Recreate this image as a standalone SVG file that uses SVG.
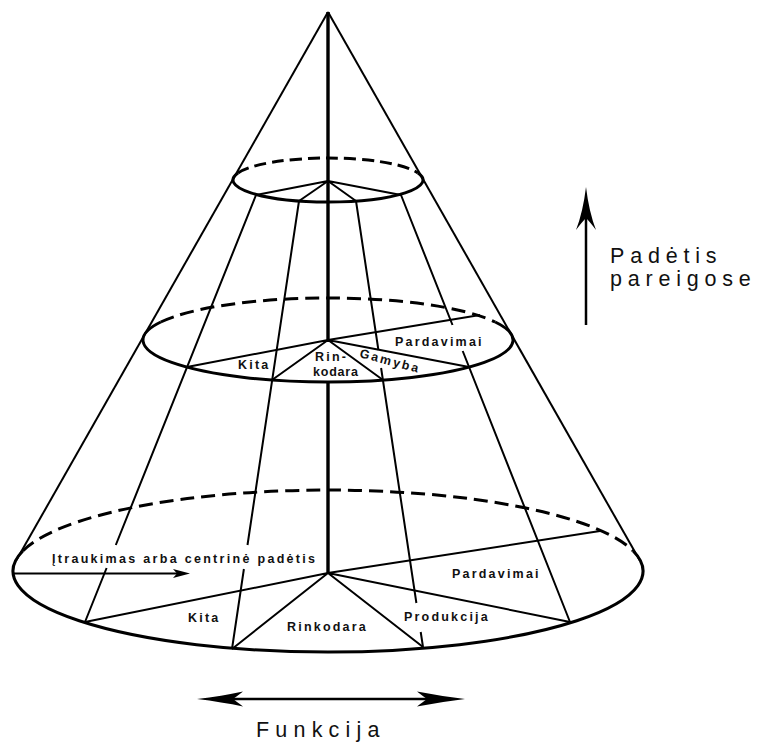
<svg xmlns="http://www.w3.org/2000/svg" width="762" height="742" viewBox="0 0 762 742">
<style>
.e{fill:none;stroke:#000;stroke-width:3}
.d{fill:none;stroke:#000;stroke-width:3;stroke-dasharray:14 7}
.dt{fill:none;stroke:#000;stroke-width:3;stroke-dasharray:12 6}
.l{fill:none;stroke:#000;stroke-width:2}
.ax{fill:none;stroke:#000;stroke-width:3.4}
.hd{fill:#000;stroke:none}
.lbl{font-family:"Liberation Sans",Arial,sans-serif;font-weight:bold;font-size:12.5px;letter-spacing:2.2px;fill:#111}
.big{font-family:"Liberation Sans",Arial,sans-serif;font-size:21.5px;letter-spacing:5.8px;fill:#111}
</style>
<rect width="762" height="742" fill="#fff"/>

<g id="cone-sides">
<line class="l" x1="328" y1="12" x2="16.3" y2="560.3"/>
<line class="l" x1="328" y1="12" x2="639.7" y2="560.3"/>
</g>

<g id="ellipse-top">
<path class="e" d="M238,173 A95,22 0 1 0 418,173"/>
<path class="dt" d="M238,173 A95,22 0 0 1 418,173"/>
<path class="l" d="M256,195 L328,181 L299,201 M328,181 L356,201 M328,181 L401,195"/>
</g>

<g id="ellipse-middle">
<path class="e" d="M160.8,322 A185,42 0 1 0 495.2,322"/>
<path class="d" d="M160.8,322 A185,42 0 0 1 495.2,322"/>
<path class="l" d="M187,367 L328,340 L480,315 M328,340 L272,380 M328,340 L383,380 M328,340 L469,367"/>
</g>

<g id="ellipse-bottom">
<path class="e" d="M22.8,551 A315,81 0 1 0 633.2,551"/>
<path class="d" d="M22.8,551 A315,81 0 0 1 633.2,551"/>
<path class="l" d="M85,622 L328,573 L600,531 M328,573 L232,649 M328,573 L423,647 M328,573 L570,622"/>
</g>

<g id="connectors">
<path class="l" d="M256,195 L115.8,545 M106.6,568 L85,622"/>
<path class="l" d="M299,201 L247.5,545 M243.9,569 L232,649"/>
<path class="l" d="M356,201 L378.4,350 M381.1,368 L416.4,603 M420.7,632 L423,647"/>
<path class="l" d="M401,195 L452.5,325 M462.7,351 L570,622"/>
<path class="ax" d="M328,12 L328,342 M328,381 L328,574"/>
<line class="l" x1="13" y1="573.5" x2="180" y2="573.5"/>
<path class="hd" d="M190,573.5 L173,569 L177,573.5 L173,578 Z"/>
</g>

<g id="arrow-vertical">
<line x1="586" y1="325" x2="586" y2="218" stroke="#000" stroke-width="2.5"/>
<path class="hd" d="M586,187 Q589,212 596,230 Q590,222 586,218 Q582,222 576,230 Q583,212 586,187 Z"/>
</g>

<g id="arrow-horizontal">
<line x1="232" y1="699" x2="428" y2="699" stroke="#000" stroke-width="2.5"/>
<path class="hd" d="M197,699 Q222,696 243,691.5 Q236,697 233,699 Q236,701 243,706.5 Q222,702 197,699 Z"/>
<path class="hd" d="M465,699 Q440,696 417,691.5 Q424,697 427,699 Q424,701 417,706.5 Q440,702 465,699 Z"/>
</g>

<g id="labels-middle">
<text class="lbl" x="238" y="369">Kita</text>
<text class="lbl" x="315" y="361">Rin-</text>
<text class="lbl" x="313" y="376" style="letter-spacing:0.8px">kodara</text>
<text class="lbl" x="359" y="357" transform="rotate(15 359 357)">Gamyba</text>
<text class="lbl" x="395" y="346">Pardavimai</text>
</g>

<g id="labels-bottom">
<text class="lbl" x="52" y="563" style="letter-spacing:2.3px">Įtraukimas arba centrinė padėtis</text>
<text class="lbl" x="188" y="622">Kita</text>
<text class="lbl" x="287" y="631">Rinkodara</text>
<text class="lbl" x="404" y="621">Produkcija</text>
<text class="lbl" x="452" y="578">Pardavimai</text>
</g>

<g id="labels-axes">
<text class="big" x="610" y="263">Padėtis</text>
<text class="big" x="610" y="286">pareigose</text>
<text class="big" x="256" y="737" style="letter-spacing:6.2px">Funkcija</text>
</g>
</svg>
